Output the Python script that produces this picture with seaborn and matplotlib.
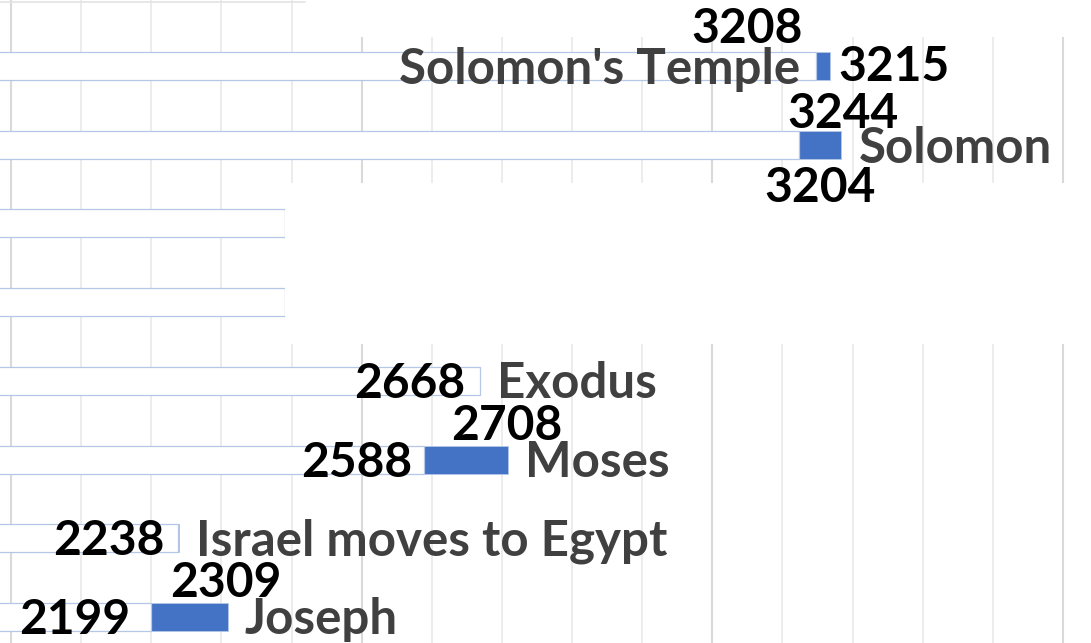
import matplotlib
matplotlib.use('Agg')
import matplotlib.pyplot as plt
import seaborn as sns
import pandas as pd
import numpy as np
from matplotlib.patches import Rectangle

# rows from top to bottom (two unnamed rows are cropped in the source picture)
events = ["Solomon's Temple", "Solomon", " ", "  ", "Exodus", "Moses",
          "Israel moves to Egypt", "Joseph"]
# bar extents as drawn against the year gridlines
bar_start = [3148, 3124, 2390, 2390, 2668, 2589, 2238, 2200]
bar_end = [3168, 3184, 2390, 2390, 2669, 2709, 2239, 2309]
# year labels printed beside the bars
start_labels = ["3208", "3204", "", "", "2668", "2588", "2238", "2199"]
end_labels = ["3215", "3244", "", "", "", "2708", "", "2309"]

W, H = 1091, 643
sns.set_style('white')
plt.rcParams['font.family'] = ['Lato', 'DejaVu Sans']

fig = plt.figure(figsize=(W / 100, H / 100), dpi=100)
ax = fig.add_axes([0, 0, 1, 1])

df = pd.DataFrame({'event': events, 'start': bar_start, 'end': bar_end})
# blue part = whole bar up to end, then hide the part before start with white
sns.barplot(data=df, y='event', x='end', orient='h', color='#4472C4',
            saturation=1, width=0.356, edgecolor='#b4c7e7', linewidth=0.6, ax=ax)
sns.barplot(data=df, y='event', x='start', orient='h', color='white',
            saturation=1, width=0.356, edgecolor='#b4c7e7', linewidth=0.9, ax=ax)

ax.set_xlim(1984.3, 3539.9)
ax.set_ylim(7.331, -0.8385)
ax.set_xticks(np.arange(2000, 3501, 100))
ax.set_axisbelow(True)
ax.grid(axis='x', color='#ececec', linewidth=1.4)
for v in range(2000, 3501, 500):
    ax.axvline(v, color='#d9d9d9', linewidth=1.5, zorder=0.6)
ax.set_xlabel('')
ax.set_ylabel('')
ax.set_xticklabels([])
ax.set_yticklabels([])
ax.tick_params(length=0)
for s in ax.spines.values():
    s.set_visible(False)

# white cut-outs of the pasted pieces
ax.add_patch(Rectangle((305 / W, 1 - 37 / H), 1, 37 / H, transform=ax.transAxes,
                       facecolor='white', edgecolor='none', zorder=1.5))
ax.add_patch(Rectangle((284.5 / W, 1 - 344 / H), 1, (344 - 183) / H,
                       transform=ax.transAxes, facecolor='white',
                       edgecolor='none', zorder=1.5))
ax.plot([0, 305 / W], [1 - 1.5 / H, 1 - 1.5 / H], transform=ax.transAxes,
        color='#e3e3e3', linewidth=1.2, zorder=1.6)

num_kw = dict(fontsize=34.5, fontweight='bold', color='black',
              textcoords='offset pixels', va='baseline', zorder=3)
cat_kw = dict(fontsize=35.5, fontweight='bold', color='#404040',
              textcoords='offset pixels', va='baseline', zorder=3)


def put(text, x, row, dx, dy, ha, kw):
    if text:
        ax.annotate(text, xy=(x, row), xytext=(dx, dy), ha=ha, **kw)


# Solomon's Temple
put(start_labels[0], bar_start[0], 0, -13, 23, 'right', num_kw)
put(end_labels[0], bar_end[0], 0, 8, -15, 'left', num_kw)
put(events[0], bar_start[0], 0, -16, -18, 'right', cat_kw)
# Solomon
put(start_labels[1], bar_start[1], 1, 21, -57, 'center', num_kw)
put(end_labels[1], bar_end[1], 1, 2, 17, 'center', num_kw)
put(events[1], bar_end[1], 1, 17, -18, 'left', cat_kw)
# Exodus, Moses, Israel, Joseph
for i, dx_s in zip([4, 5, 6, 7], [-14, -12, -13, -21]):
    put(start_labels[i], bar_start[i], i, dx_s, -17, 'right', num_kw)
    put(end_labels[i], bar_end[i], i, -2, 20, 'center', num_kw)
    put(events[i], bar_end[i], i, 17, -17, 'left', cat_kw)

fig.savefig('out.png', dpi=100)
